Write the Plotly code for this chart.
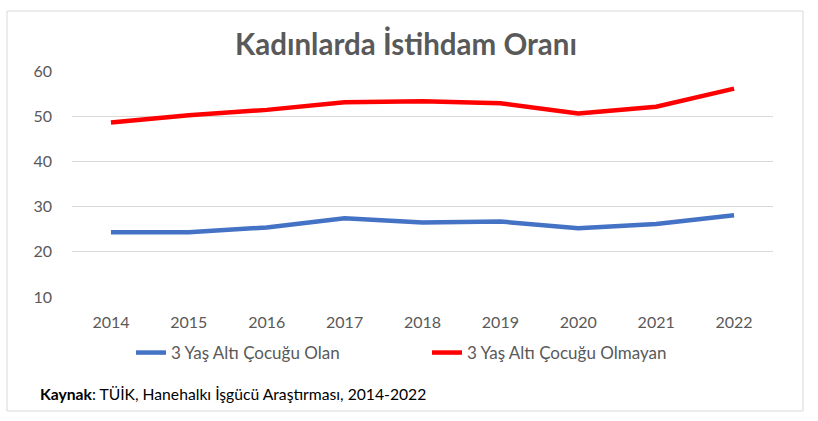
import plotly.graph_objects as go

years = ["2014", "2015", "2016", "2017", "2018", "2019", "2020", "2021", "2022"]
cocuklu = [24.3, 24.3, 25.4, 27.4, 26.5, 26.7, 25.2, 26.15, 28.1]
cocuksuz = [48.6, 50.2, 51.4, 53.1, 53.3, 52.85, 50.6, 52.1, 56.1]
y_ticks = [10, 20, 30, 40, 50, 60]

W, H = 818, 421
L, R, T, B = 72, 45, 71, 124
FONT = "Lato"
GRAY = "#595959"


def px_x(p):
    # pixel -> paper x
    return (p - L) / (W - L - R)


def px_y(p):
    # pixel -> paper y
    return 1 - (p - T) / (H - T - B)


fig = go.Figure()
fig.add_trace(go.Scatter(x=years, y=cocuklu, mode="lines", name="3 Yaş Altı Çocuğu Olan",
                         line=dict(color="#4472C4", width=4.5)))
fig.add_trace(go.Scatter(x=years, y=cocuksuz, mode="lines", name="3 Yaş Altı Çocuğu Olmayan",
                         line=dict(color="#FF0000", width=4.5)))

fig.update_layout(
    width=W, height=H,
    margin=dict(l=L, r=R, t=T, b=B, autoexpand=False),
    paper_bgcolor="white", plot_bgcolor="white",
    font=dict(family=FONT, color=GRAY, size=16),
    title=dict(text="<b>Kadınlarda İstihdam Oranı</b>", xref="container", x=406 / W,
               xanchor="center", yref="container", y=1 - 45 / H, yanchor="middle",
               font=dict(family=FONT, size=29.5, color=GRAY)),
    showlegend=True,
    legend=dict(orientation="h", x=px_x(131), xanchor="left", y=px_y(353), yanchor="middle",
                entrywidth=251, entrywidthmode="pixels", font=dict(size=17, color=GRAY),
                itemwidth=30, tracegroupgap=0),
    xaxis=dict(range=[-0.5, 8.5], showgrid=False, showline=False, ticks="",
               ticklabelstandoff=14, automargin=False, tickfont=dict(size=16, color=GRAY)),
    yaxis=dict(range=[10, 60], tickvals=y_ticks, showgrid=True, gridcolor="#D9D9D9", gridwidth=1,
               zeroline=False, showline=False, ticks="", ticklabelstandoff=19, automargin=False,
               tickfont=dict(size=16, color=GRAY)),
)

# outer chart border
fig.add_shape(type="rect", xref="paper", yref="paper",
              x0=px_x(7), x1=px_x(803), y0=px_y(411), y1=px_y(11),
              line=dict(color="#D9D9D9", width=1), layer="below")

fig.add_annotation(text="<b>Kaynak</b>: TÜİK, Hanehalkı İşgücü Araştırması, 2014-2022",
                   xref="paper", yref="paper", x=px_x(38), xanchor="left",
                   y=px_y(394), yanchor="middle", showarrow=False,
                   font=dict(family=FONT, size=15.7, color="black"))

# drop the default 8px page margin so the chart sits at the window corner
fig.write_html("out.html", config={"displayModeBar": False},
               post_script="document.body.style.margin='0';")
